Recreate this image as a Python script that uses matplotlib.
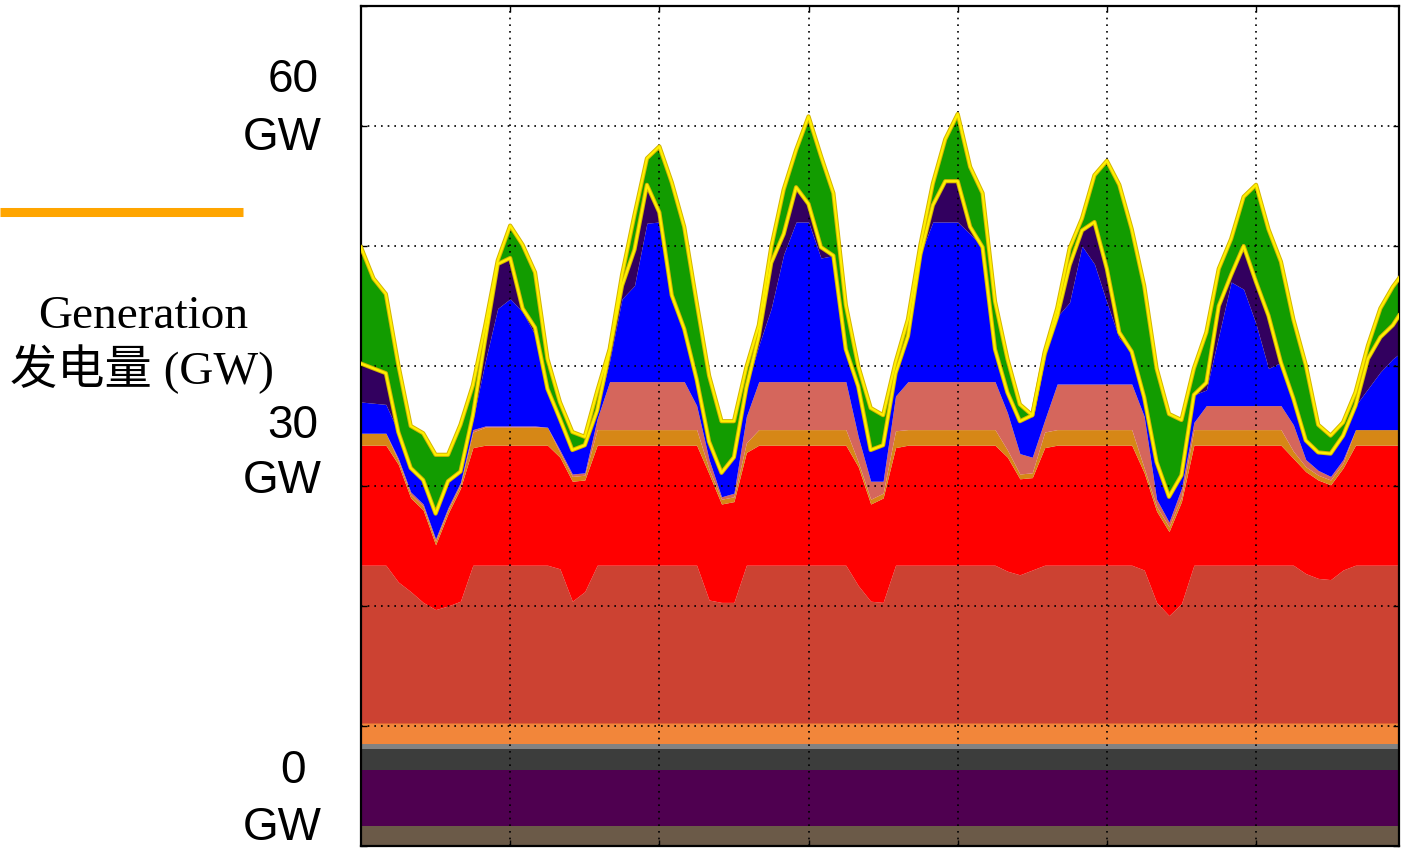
import numpy as np
import matplotlib
matplotlib.use("Agg")
import matplotlib.pyplot as plt
from matplotlib.lines import Line2D

# --- DATA (GW, 2-hour steps over one week) ---
hours = list(range(0, 167, 2)) + [167]

# flat must-run blocks at the bottom (thickness in GW)
base_names = ["other", "hydro", "gas", "oil", "biomass"]
base_values = [1.7, 4.65, 1.73, 0.39, 1.78]
base_colors = ["#6b5a48", "#4f0050", "#3c3d3c", "#828282", "#f2863a"]

# stacked tops of the varying layers
coal_top = [23.4, 23.4, 23.4, 22.0, 21.2, 20.3,
            19.7, 20.0, 20.4, 23.4, 23.4, 23.4,
            23.4, 23.4, 23.4, 23.4, 23.1, 20.4,
            21.2, 23.4, 23.4, 23.4, 23.4, 23.4,
            23.4, 23.4, 23.4, 23.4, 20.5, 20.3,
            20.3, 23.4, 23.4, 23.4, 23.4, 23.4,
            23.4, 23.4, 23.4, 23.4, 21.7, 20.4,
            20.3, 23.4, 23.4, 23.4, 23.4, 23.4,
            23.4, 23.4, 23.4, 23.4, 22.9, 22.6,
            23.0, 23.4, 23.4, 23.4, 23.4, 23.4,
            23.4, 23.4, 23.4, 23.0, 20.3, 19.2,
            20.2, 23.4, 23.4, 23.4, 23.4, 23.4,
            23.4, 23.4, 23.4, 23.4, 22.7, 22.3,
            22.2, 23.0, 23.4, 23.4, 23.4, 23.4,
            23.4]

red_top = [33.4, 33.4, 33.4, 31.8, 29.0, 28.0,
           25.1, 27.7, 29.8, 33.2, 33.4, 33.4,
           33.4, 33.4, 33.4, 33.4, 32.4, 30.4,
           30.5, 33.4, 33.4, 33.4, 33.4, 33.4,
           33.4, 33.4, 33.4, 33.4, 31.0, 28.5,
           28.7, 32.8, 33.4, 33.4, 33.4, 33.4,
           33.4, 33.4, 33.4, 33.4, 31.6, 28.5,
           29.0, 33.2, 33.4, 33.4, 33.4, 33.4,
           33.4, 33.4, 33.4, 33.4, 32.4, 30.6,
           30.7, 33.2, 33.4, 33.4, 33.4, 33.4,
           33.4, 33.4, 33.4, 31.1, 27.9, 26.2,
           28.7, 33.4, 33.4, 33.4, 33.4, 33.4,
           33.4, 33.4, 33.4, 32.3, 31.2, 30.5,
           30.1, 31.5, 33.4, 33.4, 33.4, 33.4,
           33.4]

dorange_top = [34.4, 34.4, 34.4, 32.1, 29.3, 28.3,
               25.4, 28.0, 30.1, 34.5, 34.9, 34.9,
               34.9, 34.9, 34.9, 34.9, 32.8, 30.8,
               30.9, 34.7, 34.7, 34.7, 34.7, 34.7,
               34.7, 34.7, 34.7, 34.7, 31.4, 28.9,
               29.1, 33.6, 34.7, 34.7, 34.7, 34.7,
               34.7, 34.7, 34.7, 34.7, 32.0, 28.9,
               29.4, 34.6, 34.7, 34.7, 34.7, 34.7,
               34.7, 34.7, 34.7, 34.7, 33.0, 31.0,
               31.1, 34.5, 34.7, 34.7, 34.7, 34.7,
               34.7, 34.7, 34.7, 31.5, 28.3, 26.6,
               29.1, 34.7, 34.7, 34.7, 34.7, 34.7,
               34.7, 34.7, 34.7, 32.9, 31.6, 30.9,
               30.5, 31.9, 34.7, 34.7, 34.7, 34.7,
               34.7]

salmon_top = [34.4, 34.4, 34.4, 32.3, 29.5, 28.5,
              25.6, 28.2, 30.3, 34.7, 35.0, 35.0,
              35.0, 35.0, 35.0, 34.9, 33.0, 31.0,
              31.1, 35.6, 38.7, 38.7, 38.7, 38.7,
              38.7, 38.7, 38.7, 36.7, 32.2, 29.1,
              29.4, 35.8, 38.7, 38.7, 38.7, 38.7,
              38.7, 38.7, 38.7, 38.7, 34.1, 30.4,
              30.4, 37.5, 38.7, 38.7, 38.7, 38.7,
              38.7, 38.7, 38.7, 38.7, 36.1, 32.7,
              32.4, 35.5, 38.5, 38.5, 38.5, 38.5,
              38.5, 38.5, 38.5, 35.8, 28.9, 27.0,
              29.8, 35.3, 36.7, 36.7, 36.7, 36.7,
              36.7, 36.7, 36.7, 35.1, 32.2, 31.3,
              30.8, 32.2, 34.7, 34.7, 34.7, 34.7,
              34.7]

blue_top = [37.0, 36.9, 36.8, 34.5, 31.5, 30.5,
            27.7, 30.4, 31.2, 35.5, 40.4, 44.8,
            45.6, 44.5, 42.6, 38.1, 35.6, 33.0,
            33.4, 36.3, 40.4, 45.6, 46.7, 51.9,
            52.0, 45.4, 43.1, 38.9, 33.7, 31.1,
            32.4, 38.2, 41.7, 44.8, 49.3, 52.0,
            52.0, 49.0, 49.2, 41.4, 38.3, 33.0,
            33.4, 39.4, 42.5, 49.3, 52.0, 52.0,
            52.0, 51.0, 49.9, 41.4, 37.8, 35.4,
            35.9, 41.0, 44.1, 45.3, 50.0, 48.5,
            45.3, 42.3, 41.2, 37.4, 32.0, 29.1,
            30.9, 37.6, 38.0, 42.5, 47.0, 46.4,
            43.5, 39.8, 40.3, 37.3, 33.8, 32.8,
            32.7, 34.2, 36.7, 38.1, 39.5, 40.6,
            41.0]

purple_top = [40.2, 39.8, 39.4, 34.5, 31.5, 30.5,
              27.7, 30.4, 31.2, 35.9, 42.3, 48.5,
              49.0, 44.8, 43.2, 38.1, 35.6, 33.0,
              33.4, 36.3, 41.2, 46.7, 49.7, 55.1,
              52.8, 45.9, 43.1, 38.9, 33.7, 31.1,
              32.4, 38.2, 42.5, 48.6, 51.0, 54.9,
              53.5, 49.9, 49.2, 41.4, 38.3, 33.0,
              33.4, 39.4, 42.5, 49.3, 53.4, 55.4,
              55.4, 51.6, 49.9, 41.4, 37.8, 35.4,
              35.9, 41.0, 44.1, 48.4, 51.3, 52.0,
              48.1, 42.8, 41.2, 37.4, 32.0, 29.1,
              30.9, 37.6, 38.6, 45.0, 47.6, 50.0,
              47.0, 44.2, 40.3, 37.3, 33.8, 32.8,
              32.7, 34.2, 36.7, 40.6, 42.4, 43.4,
              44.2]

green_top = [49.9, 47.3, 46.0, 40.1, 35.0, 34.4,
             32.6, 32.6, 35.1, 38.4, 43.4, 48.8,
             51.7, 50.1, 47.8, 40.6, 37.0, 34.5,
             34.1, 37.9, 41.4, 47.6, 52.6, 57.3,
             58.3, 55.3, 51.6, 45.3, 39.2, 35.4,
             35.4, 39.9, 43.4, 49.9, 54.7, 58.0,
             60.8, 57.5, 54.4, 45.1, 40.0, 36.5,
             35.9, 40.3, 43.9, 50.1, 55.2, 58.9,
             61.0, 56.6, 54.4, 45.4, 40.6, 36.8,
             35.9, 41.2, 44.8, 49.8, 52.3, 55.9,
             57.1, 55.1, 51.4, 46.7, 39.8, 36.0,
             35.5, 39.8, 42.8, 48.1, 50.6, 54.1,
             55.1, 51.4, 48.7, 43.9, 40.1, 35.1,
             34.2, 35.3, 37.8, 41.7, 44.8, 46.6,
             47.3]

layer_tops = [coal_top, red_top, dorange_top, salmon_top, blue_top, purple_top, green_top]
layer_colors = ["#cc4232", "#ff0000", "#d68716", "#d5665c", "#0000ff", "#32005f", "#129c00"]

plt.rcParams["font.family"] = ["Liberation Sans", "DejaVu Sans"]

fig = plt.figure(figsize=(14.02, 8.53), dpi=100)
ax = fig.add_axes([361 / 1402, 1 - 847 / 853, 1038 / 1402, 840 / 853])

x = np.array(hours)

# flat bottom blocks
bottom = 0.0
for val, col in zip(base_values, base_colors):
    ax.fill_between(x, bottom, bottom + val, color=col, lw=0)
    bottom += val

# varying layers, each filled from the previous top
prev = np.full(len(x), bottom)
for top, col in zip(layer_tops, layer_colors):
    top = np.array(top)
    ax.fill_between(x, prev, top, color=col, lw=0)
    prev = top

# yellow outlines on the two upper curves
for top in [purple_top, green_top]:
    ax.plot(x, top, color="#d4b400", lw=3.0, zorder=3, solid_joinstyle="round")
    ax.plot(x, top, color="#fff000", lw=1.6, zorder=3.1, solid_joinstyle="round")

ax.set_xlim(0, 167)
ax.set_ylim(0, 70)
ax.set_xticks([24, 48, 72, 96, 120, 144])
ax.set_yticks(range(0, 71, 10))
ax.set_xticklabels([])
ax.set_yticklabels([])
ax.set_axisbelow(False)
ax.grid(True, color="black", linestyle=(0, (1, 3)), lw=1.2, zorder=2.5)
ax.tick_params(direction="in", length=4, width=1, top=True, right=True)
for s in ax.spines.values():
    s.set_linewidth(1.6)
    s.set_color("black")

# left-hand labels
for num, gw, yn, yg in [("60", "GW", 92, 150), ("30", "GW", 438, 493), ("0", "GW", 783, 840)]:
    fig.text(293 / 1402, 1 - yn / 853, num, ha="center", va="baseline", fontsize=33)
    fig.text(282.5 / 1402, 1 - yg / 853, gw, ha="center", va="baseline", fontsize=33)

fig.text(143 / 1402, 1 - 328 / 853, "Generation", ha="center", va="baseline",
         fontsize=34, family=["Liberation Serif", "DejaVu Serif"])
fig.text(142 / 1402, 1 - 384 / 853, "发电量 (GW)", ha="center", va="baseline",
         fontsize=34, family=["Liberation Serif", "Noto Sans CJK SC"])

fig.add_artist(Line2D([0, 243 / 1402], [1 - 212.5 / 853] * 2, color="#ffa500", lw=6.5,
                      solid_capstyle="butt", transform=fig.transFigure))

fig.savefig("out.png", dpi=100)
